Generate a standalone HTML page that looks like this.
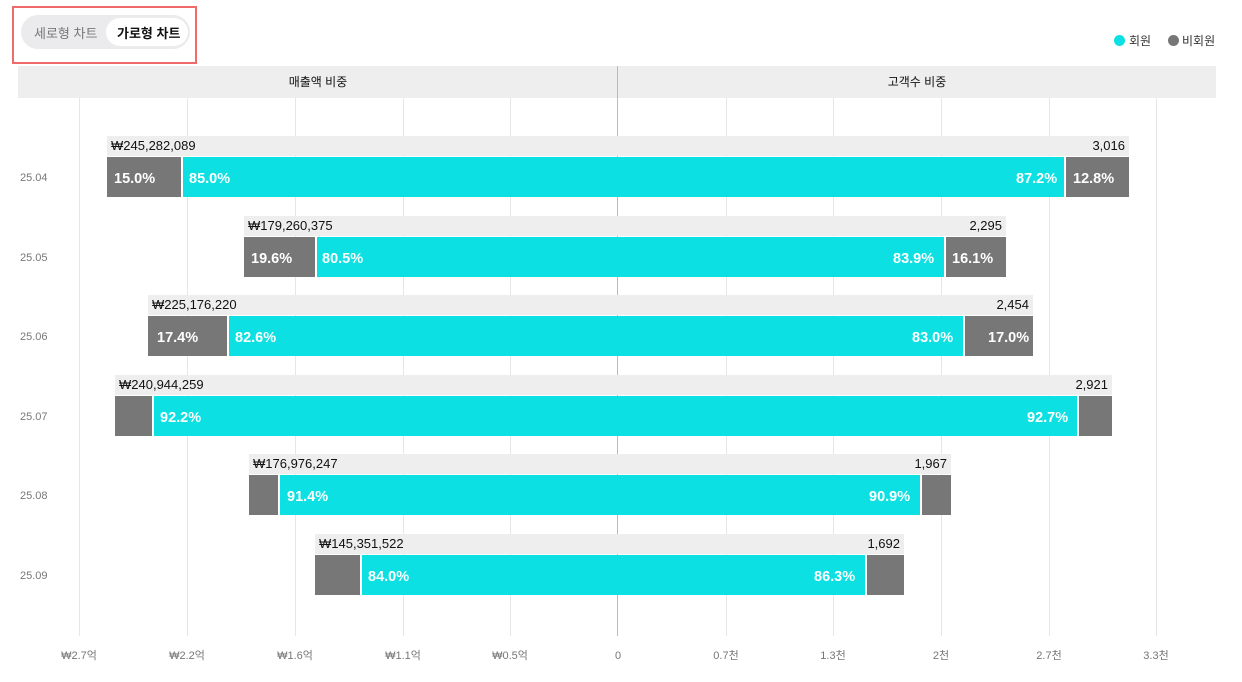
<!DOCTYPE html><html><head><meta charset="utf-8"><style>
body{margin:0;width:1242px;height:682px;background:#fff;font-family:"Liberation Sans","Noto Sans CJK KR",sans-serif;position:relative;overflow:hidden}
div{position:absolute;box-sizing:border-box}
.g{top:98px;height:538px;width:1px;background:#e6e6e6}
.t{top:648px;font-size:11px;line-height:16px;height:16px;color:#777;width:60px;margin-left:-30px;text-align:center}
.lb{background:#eee;height:20px;font-size:13px;color:#111;line-height:20px}
.gr{background:#777;height:40px}.cy{background:#0ce0e3;height:40px}
.p{color:#fff;font-weight:bold;font-size:14.5px;line-height:44px}
.y{left:20px;font-size:11px;color:#777;line-height:16px}
</style></head><body>
<div style="left:12px;top:6px;width:185px;height:58px;border:2px solid #f06a6a"></div>
<div style="left:21px;top:15px;width:169px;height:34px;border-radius:17px;background:#ebebed"></div>
<div style="left:34px;top:23px;font-size:13px;color:#777">세로형 차트</div>
<div style="left:106px;top:18px;width:82px;height:28px;border-radius:14px;background:#fff"></div>
<div style="left:117px;top:23px;font-size:13px;font-weight:bold;color:#111">가로형 차트</div>
<div style="left:1114px;top:35px;width:11px;height:11px;border-radius:50%;background:#0ce0e3"></div>
<div style="left:1129px;top:32px;font-size:12px;color:#333">회원</div>
<div style="left:1168px;top:35px;width:11px;height:11px;border-radius:50%;background:#777"></div>
<div style="left:1182px;top:32px;font-size:12px;color:#333">비회원</div>
<div style="left:18px;top:66px;width:1198px;height:32px;background:#eee"></div>
<div style="left:18px;top:66px;width:600px;text-align:center;line-height:32px;font-size:12px;color:#111">매출액 비중</div>
<div style="left:618px;top:66px;width:598px;text-align:center;line-height:32px;font-size:12px;color:#111">고객수 비중</div>
<div class="g" style="left:79px"></div><div class="g" style="left:187px"></div><div class="g" style="left:295px"></div><div class="g" style="left:403px"></div><div class="g" style="left:510px"></div><div class="g" style="left:726px"></div><div class="g" style="left:833px"></div><div class="g" style="left:941px"></div><div class="g" style="left:1049px"></div><div class="g" style="left:1156px"></div>
<div class="t" style="left:79px">₩2.7억</div><div class="t" style="left:187px">₩2.2억</div><div class="t" style="left:295px">₩1.6억</div><div class="t" style="left:403px">₩1.1억</div><div class="t" style="left:510px">₩0.5억</div><div class="t" style="left:618px">0</div><div class="t" style="left:726px">0.7천</div><div class="t" style="left:833px">1.3천</div><div class="t" style="left:941px">2천</div><div class="t" style="left:1049px">2.7천</div><div class="t" style="left:1156px">3.3천</div>
<div style="left:617px;top:66px;width:1px;height:570px;background:#bbb"></div>
<!-- rows -->
<div class="lb" style="left:107px;top:136px;width:1022px;padding:0 4px"><span>₩245,282,089</span><span style="float:right">3,016</span></div>
<div class="gr" style="left:107px;top:157px;width:74px"></div><div class="p" style="left:114px;top:157px">15.0%</div>
<div class="cy" style="left:183px;top:157px;width:881px"></div><div class="p" style="left:189px;top:157px">85.0%</div><div class="p" style="left:1016px;top:157px">87.2%</div>
<div class="gr" style="left:1066px;top:157px;width:63px"></div><div class="p" style="left:1073px;top:157px">12.8%</div>
<div class="y" style="top:170px">25.04</div>

<div class="lb" style="left:244px;top:216px;width:762px;padding:0 4px"><span>₩179,260,375</span><span style="float:right">2,295</span></div>
<div class="gr" style="left:244px;top:237px;width:71px"></div><div class="p" style="left:251px;top:237px">19.6%</div>
<div class="cy" style="left:317px;top:237px;width:627px"></div><div class="p" style="left:322px;top:237px">80.5%</div><div class="p" style="left:893px;top:237px">83.9%</div>
<div class="gr" style="left:946px;top:237px;width:60px"></div><div class="p" style="left:952px;top:237px">16.1%</div>
<div class="y" style="top:250px">25.05</div>

<div class="lb" style="left:148px;top:295px;width:885px;padding:0 4px"><span>₩225,176,220</span><span style="float:right">2,454</span></div>
<div class="gr" style="left:148px;top:316px;width:79px"></div><div class="p" style="left:157px;top:316px">17.4%</div>
<div class="cy" style="left:229px;top:316px;width:734px"></div><div class="p" style="left:235px;top:316px">82.6%</div><div class="p" style="left:912px;top:316px">83.0%</div>
<div class="gr" style="left:965px;top:316px;width:68px"></div><div class="p" style="left:988px;top:316px">17.0%</div>
<div class="y" style="top:329px">25.06</div>

<div class="lb" style="left:115px;top:375px;width:997px;padding:0 4px"><span>₩240,944,259</span><span style="float:right">2,921</span></div>
<div class="gr" style="left:115px;top:396px;width:37px"></div>
<div class="cy" style="left:154px;top:396px;width:923px"></div><div class="p" style="left:160px;top:396px">92.2%</div><div class="p" style="left:1027px;top:396px">92.7%</div>
<div class="gr" style="left:1079px;top:396px;width:33px"></div>
<div class="y" style="top:409px">25.07</div>

<div class="lb" style="left:249px;top:454px;width:702px;padding:0 4px"><span>₩176,976,247</span><span style="float:right">1,967</span></div>
<div class="gr" style="left:249px;top:475px;width:29px"></div>
<div class="cy" style="left:280px;top:475px;width:640px"></div><div class="p" style="left:287px;top:475px">91.4%</div><div class="p" style="left:869px;top:475px">90.9%</div>
<div class="gr" style="left:922px;top:475px;width:29px"></div>
<div class="y" style="top:488px">25.08</div>

<div class="lb" style="left:315px;top:534px;width:589px;padding:0 4px"><span>₩145,351,522</span><span style="float:right">1,692</span></div>
<div class="gr" style="left:315px;top:555px;width:45px"></div>
<div class="cy" style="left:362px;top:555px;width:503px"></div><div class="p" style="left:368px;top:555px">84.0%</div><div class="p" style="left:814px;top:555px">86.3%</div>
<div class="gr" style="left:867px;top:555px;width:37px"></div>
<div class="y" style="top:568px">25.09</div>
</body></html>
